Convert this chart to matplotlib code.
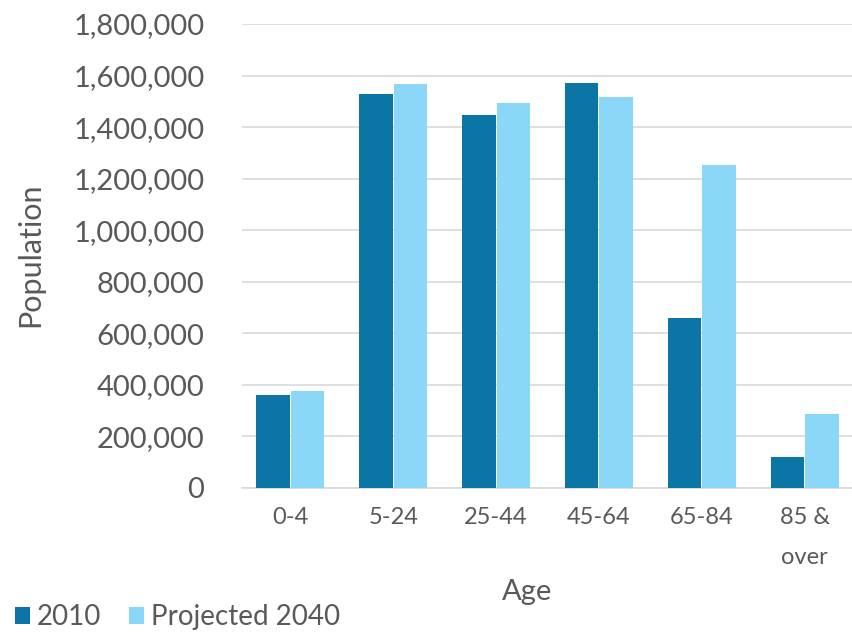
import matplotlib
matplotlib.use("Agg")
import matplotlib.pyplot as plt
import numpy as np
from matplotlib.ticker import FuncFormatter

# data
AGE_GROUPS = ["0-4", "5-24", "25-44", "45-64", "65-84", "85 &\nover"]
POP_2010 = [360000, 1530000, 1448000, 1572000, 659000, 120000]
POP_2040 = [376000, 1568000, 1494000, 1517000, 1253000, 287000]

DARK = "#0B76A5"
LIGHT = "#8AD7F7"
TXT = "#595959"
GRID = "#D9D9D9"

plt.rcParams["font.family"] = ["Lato", "DejaVu Sans"]

fig = plt.figure(figsize=(8.52, 6.33), dpi=100)
ax = fig.add_axes([242 / 852, 1 - 488 / 633, 610 / 852, 464 / 633])

x = np.arange(len(AGE_GROUPS))
w = 0.325
ax.bar(x - w / 2 - 0.005, POP_2010, width=w, color=DARK, label="2010", zorder=3)
ax.bar(x + w / 2 + 0.005, POP_2040, width=w, color=LIGHT, label="Projected 2040", zorder=3)

ax.set_ylim(0, 1800000)
ax.set_xlim(-0.47, 5.46)
ax.set_yticks(np.arange(0, 1800001, 200000))
ax.yaxis.set_major_formatter(FuncFormatter(lambda v, p: f"{int(v):,}"))
ax.set_xticks(x)
ax.set_xticklabels(AGE_GROUPS, linespacing=2.1)
ax.yaxis.grid(True, color=GRID, linewidth=1.2, zorder=0)
ax.set_axisbelow(True)

for s in ["top", "right", "left"]:
    ax.spines[s].set_visible(False)
ax.spines["bottom"].set_color(GRID)
ax.spines["bottom"].set_linewidth(1.2)
ax.tick_params(axis="both", length=0, colors=TXT)
ax.tick_params(axis="y", labelsize=21, pad=27)
ax.tick_params(axis="x", labelsize=17, pad=14)

fig.text(30 / 852, 1 - 255 / 633, "Population", rotation=90, ha="center",
         va="center", fontsize=22, color=TXT)
fig.text(527 / 852, 1 - 592 / 633, "Age", ha="center", va="center",
         fontsize=21, color=TXT)

leg = fig.legend(loc="lower left", bbox_to_anchor=(-0.012, -0.035), ncol=2,
                 frameon=False, fontsize=20, handlelength=0.55, handleheight=0.55,
                 handletextpad=0.25, columnspacing=1.0, labelcolor=TXT)

fig.savefig("out.png", dpi=100, facecolor="white")
